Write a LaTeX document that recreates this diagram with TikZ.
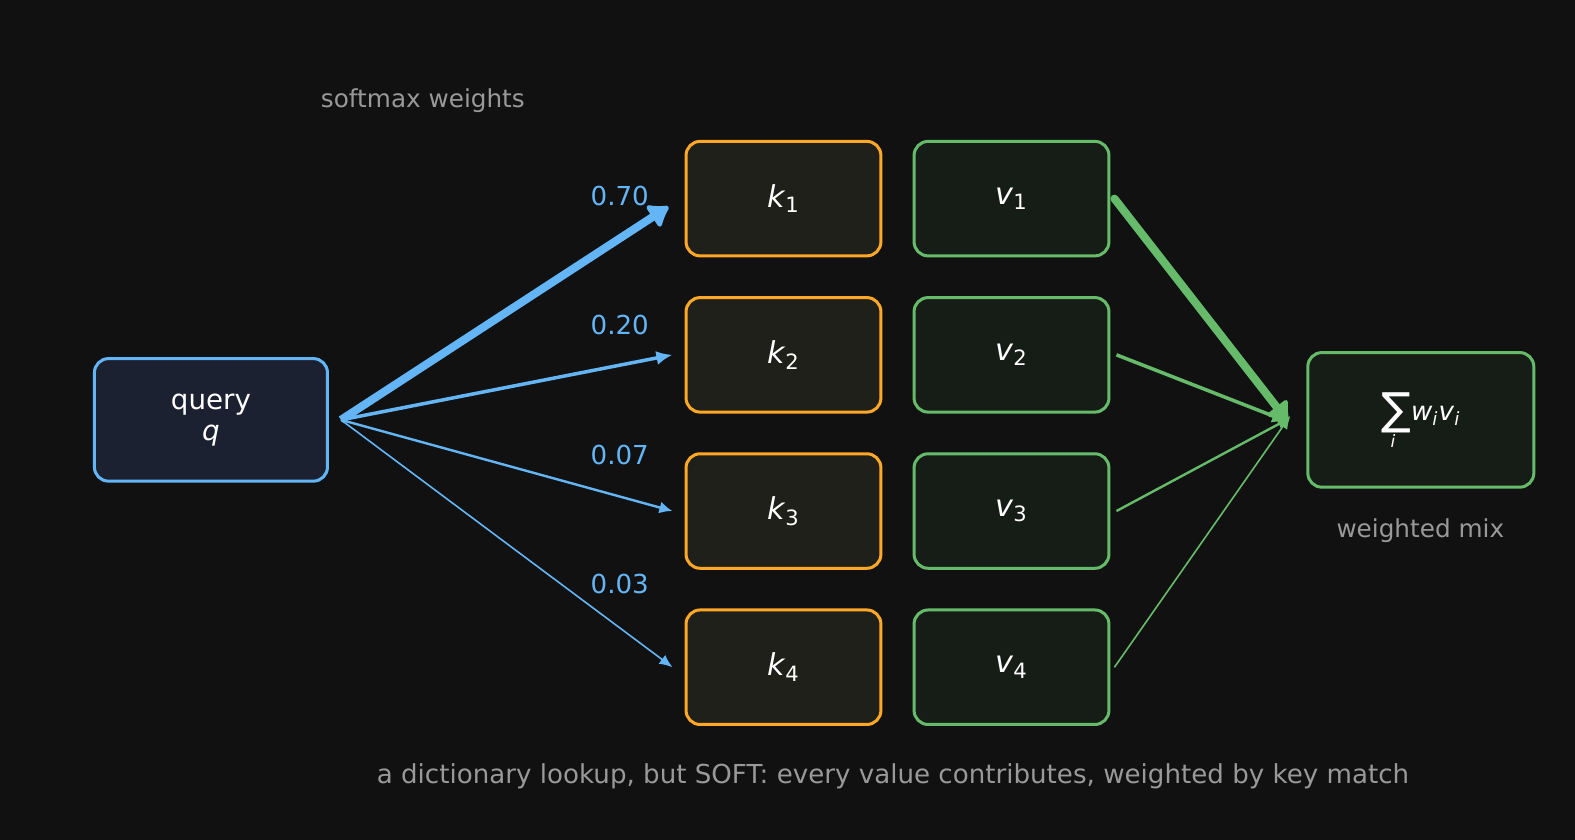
\documentclass[tikz,border=0pt]{standalone}
\usepackage{fontspec}
\setmainfont{DejaVu Sans}
\usetikzlibrary{matrix}
\usetikzlibrary{arrows.meta}
\definecolor{bgcolor}{HTML}{111111}
\definecolor{qblue}{HTML}{64B5F6}
\definecolor{korange}{HTML}{FFA726}
\definecolor{vgreen}{HTML}{66BB6A}
\definecolor{qfill}{HTML}{1B2130}
\definecolor{kfill}{HTML}{20201B}
\definecolor{vfill}{HTML}{161C16}
\definecolor{softgray}{HTML}{999999}
\newcommand{\vsub}[2]{\textit{#1}\textsubscript{#2}}

\begin{document}
\begin{tikzpicture}[x=0.5pt,y=-0.5pt,
		box/.style={draw,rounded corners=7pt,line width=1.5pt,text=white,inner sep=2pt},
		kbox/.style={box,draw=korange,fill=kfill},
		vbox/.style={box,draw=vgreen,fill=vfill},
		wlabel/.style={text=qblue,font=\fontsize{13}{15}\selectfont},
		note/.style={text=softgray,font=\fontsize{12.3}{14}\selectfont},
		heavy/.style={line width=4pt,-{Latex[length=11pt,width=16pt,round]}},
		mid/.style={line width=1.75pt,-{Latex[length=8pt,width=7pt]}},
		light/.style={line width=1.2pt,-{Latex[length=6.5pt,width=6pt]}},
		faint/.style={line width=0.8pt,-{Latex[length=6.5pt,width=5.5pt]}}]
		\fill[bgcolor] (0,0) rectangle (1568,836);
		\useasboundingbox (0,0) rectangle (1568,836);
		\node[box,draw=qblue,fill=qfill,minimum width=116pt,minimum height=61pt,align=center,font=\fontsize{13.8}{15.5}\selectfont] (q) at (210,418) {query\\\textit{q}};
		\matrix[matrix of nodes,nodes={anchor=center,minimum width=97pt,minimum height=57pt,font=\fontsize{15}{18}\selectfont},row sep=19.25pt,column sep=15pt,ampersand replacement=\&] (kv) at (893.5,431)
		{
			|(k1)[kbox]| \vsub{k}{1} \& |(v1)[vbox]| \vsub{v}{1} \\
			|(k2)[kbox]| \vsub{k}{2} \& |(v2)[vbox]| \vsub{v}{2} \\
			|(k3)[kbox]| \vsub{k}{3} \& |(v3)[vbox]| \vsub{v}{3} \\
			|(k4)[kbox]| \vsub{k}{4} \& |(v4)[vbox]| \vsub{v}{4} \\
		};
		\node[vbox,minimum width=112.5pt,minimum height=67pt,font=\fontsize{13}{15}\selectfont] (sum) at (1414.5,418)
			{\raisebox{-0.3ex}{\fontsize{22}{22}\selectfont ∑}\llap{\raisebox{-1.9ex}{\fontsize{8.5}{9}\selectfont\textit{i}}\hspace{0.6em}}\textit{w}\textsubscript{\textit{i}}\textit{v}\textsubscript{\textit{i}}};
		% weights on the query arrows
		\node[wlabel] (w1) at (617,195) {0.70};
		\node[wlabel] (w2) at (617,324) {0.20};
		\node[wlabel] (w3) at (617,453) {0.07};
		\node[wlabel] (w4) at (617,581) {0.03};
		\draw[heavy,qblue] ([xshift=6pt]q.east) -- ([xshift=-8pt,yshift=-4pt]k1.west);
		\draw[mid,qblue] ([xshift=6pt]q.east) -- ([xshift=-6pt]k2.west);
		\draw[light,qblue] ([xshift=6pt]q.east) -- ([xshift=-6pt]k3.west);
		\draw[faint,qblue] ([xshift=6pt]q.east) -- ([xshift=-6pt]k4.west);
		% values mixed into the sum
		\draw[heavy,vgreen,line cap=round] ([xshift=2pt]v1.east) -- ([xshift=-9pt,yshift=-1pt]sum.west);
		\draw[mid,vgreen] ([xshift=3pt]v2.east) -- ([xshift=-9pt,yshift=-1pt]sum.west);
		\draw[light,vgreen] ([xshift=3pt]v3.east) -- ([xshift=-8pt,yshift=1pt]sum.west);
		\draw[faint,vgreen] ([xshift=2pt]v4.east) -- ([xshift=-8pt,yshift=2pt]sum.west);
		\node[note] (soft) at (421,100) {softmax weights};
		\node[note] (mix) at (1414,528) {weighted mix};
		\node[note,font=\fontsize{13}{15}\selectfont] (cap) at (889,773) {a dictionary lookup, but SOFT: every value contributes, weighted by key match};
	\end{tikzpicture}
\end{document}
